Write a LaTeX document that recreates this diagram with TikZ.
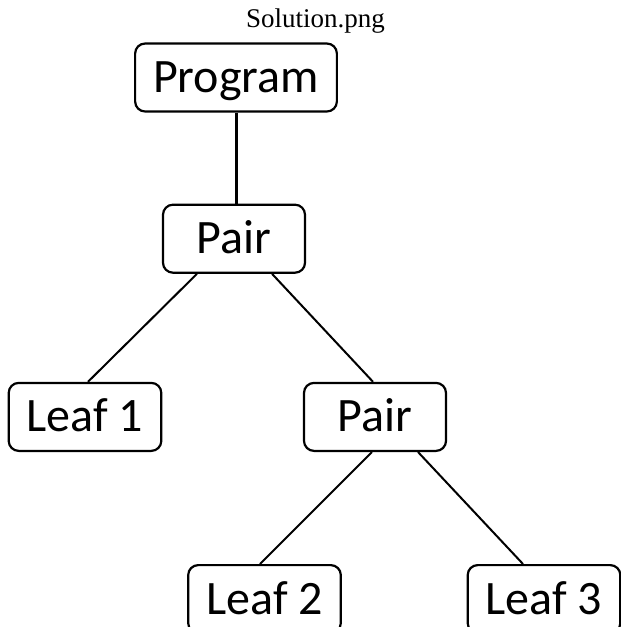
\documentclass[tikz,border=0pt]{standalone}
\usepackage{fontspec}
\setmainfont{Liberation Serif}
\newfontfamily\boxfont{Carlito}
\usetikzlibrary{positioning}

\tikzset{
	box/.style={draw,rounded corners=10pt,line width=2.2pt,
		font=\boxfont\fontsize{48}{48}\selectfont,
		minimum width=142pt,minimum height=68pt,inner xsep=18pt,inner ysep=0pt,
		text height=30pt,text depth=0pt},
	link/.style={line width=2pt}
}

\begin{document}
\begin{tikzpicture}[x=1pt,y=-1pt]
	\useasboundingbox (0,0) rectangle (621,627);
	\node[anchor=base west,inner sep=0pt,font=\fontsize{27}{27}\selectfont](title) at (246,27){Solution.png};
	\node[box](prog) at (236,77.5){Program};
	\node[box](pair1)[below=91pt of prog,xshift=-2pt]{Pair};
	\node[box](leaf1)[below=108pt of pair1,xshift=-149pt]{Leaf 1};
	\node[box](pair2)[below=108pt of pair1,xshift=141pt]{Pair};
	\node[box](leaf2)[below=112pt of pair2,xshift=-110.5pt]{Leaf 2};
	\node[box](leaf3)[below=112pt of pair2,xshift=169pt]{Leaf 3};
	\path[link,line width=3pt](prog.south) edge (prog.south |- pair1.north);
	\path[link]([xshift=-37pt]pair1.south) edge ([xshift=3pt]leaf1.north);
	\path[link]([xshift=38pt]pair1.south) edge ([xshift=-2pt]pair2.north);
	\path[link]([xshift=-3pt]pair2.south) edge ([xshift=-4.5pt]leaf2.north);
	\path[link]([xshift=43pt]pair2.south) edge ([xshift=-21pt]leaf3.north);
\end{tikzpicture}
\end{document}
